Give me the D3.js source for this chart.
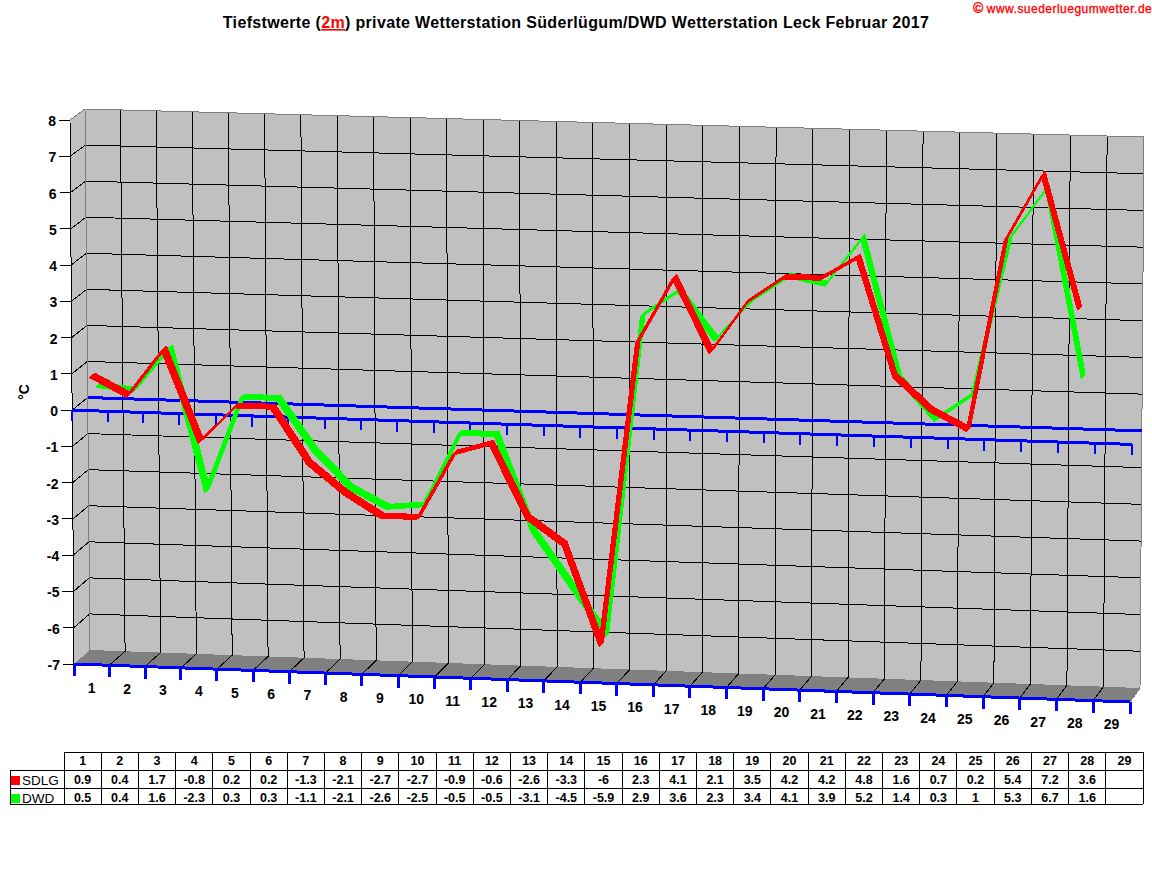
<!DOCTYPE html>
<html>
<head>
<meta charset="utf-8">
<script src="https://cdn.jsdelivr.net/npm/d3@7"></script>
<style>
	html, body { margin: 0; padding: 0; background: #fff; }
	svg { display: block; font-family: "Liberation Sans", Arial, sans-serif; }
	.lbl { font-weight: bold; font-size: 14px; fill: #000; }
	.cell { font-weight: bold; font-size: 12.5px; fill: #000; text-anchor: middle; }
</style>
</head>
<body>
<div class="chart"></div>
<script>
(function () {

	var days = d3.range(1, 30);
	var sdlg = [0.9, 0.4, 1.7, -0.8, 0.2, 0.2, -1.3, -2.1, -2.7, -2.7, -0.9, -0.6, -2.6, -3.3, -6, 2.3, 4.1, 2.1, 3.5, 4.2, 4.2, 4.8, 1.6, 0.7, 0.2, 5.4, 7.2, 3.6];
	var dwd = [0.5, 0.4, 1.6, -2.3, 0.3, 0.3, -1.1, -2.1, -2.6, -2.5, -0.5, -0.5, -3.1, -4.5, -5.9, 2.9, 3.6, 2.3, 3.4, 4.1, 3.9, 5.2, 1.4, 0.3, 1, 5.3, 6.7, 1.6];
	var yTicks = [8, 7, 6, 5, 4, 3, 2, 1, 0, -1, -2, -3, -4, -5, -6, -7];

	var svg = d3.select(".chart").append("svg")
		.attr("width", 1152)
		.attr("height", 882);

	// the plot is a tilted box, so every point goes through these scales and then the box corners
	// day spacing grows slightly to the right (36 to 36.9px), hence the pow
	var xs = d3.scalePow().exponent(1.0094).domain([0, 29]).range([0, 1]);
	var ys = d3.scaleLinear().domain([8, -7]).range([0, 1]);

	var front = { tl: [70, 120], tr: [1134, 150], bl: [74, 664], br: [1130, 702] };
	var back = { tl: [85, 109], tr: [1144, 137], bl: [90, 650], br: [1140, 688] };

	function onPlane(p, u, v) {
		var top = d3.interpolateArray(p.tl, p.tr)(u);
		var bot = d3.interpolateArray(p.bl, p.br)(u);
		return d3.interpolateArray(top, bot)(v);
	}

	// day position (0..29), value, depth (0 front .. 1 back)
	function project(day, value, depth) {
		var u = xs(day), v = ys(value);
		return d3.interpolateArray(onPlane(front, u, v), onPlane(back, u, v))(depth);
	}

	var line = d3.line();

	function path(points, color, width, fill) {
		return svg.append("path")
			.attr("d", line(points) + (fill ? "Z" : ""))
			.attr("fill", fill || "none")
			.attr("stroke", color)
			.attr("stroke-width", width)
			.attr("shape-rendering", "crispEdges");
	}

	// walls and floor
	path([project(0, 8, 0), project(0, 8, 1), project(0, -7, 1), project(0, -7, 0)], "none", 0, "#c0c0c0");
	path([project(0, 8, 1), project(29, 8, 1), project(29, -7, 1), project(0, -7, 1)], "none", 0, "#c0c0c0");
	path([project(0, -7, 0), project(0, -7, 1), project(29, -7, 1), project(29, -7, 0)], "none", 0, "#808080");

	// grid
	yTicks.slice(1, -1).forEach(function (t) {
		path([project(0, t, 0), project(0, t, 1), project(29, t, 1)], "#000", 1);
	});
	d3.range(1, 29).forEach(function (d) {
		path([project(d, -7, 0), project(d, -7, 1), project(d, 8, 1)], "#000", 1);
	});

	path([project(0, 8, 0), project(0, 8, 1), project(29, 8, 1), project(29, -7, 1), project(29, -7, 0)], "#808080", 1);
	path([project(0, 8, 1), project(0, -7, 1)], "#808080", 1);
	path([project(0, 8, 0), project(0, -7, 0)], "#000", 1);

	// zero lines and floor line with their ticks, the ribbons go over them
	path([project(0, 0, 1), project(29, 0, 1)], "#0000ff", 3);
	path([project(0, 0, 0), project(29, 0, 0)], "#0000ff", 3);
	path([project(0, -7, 0), project(29, -7, 0)], "#0000ff", 3);
	d3.range(0, 30).forEach(function (d) {
		var p0 = project(d, 0, 0), p1 = project(d, -7, 0);
		path([p0, [p0[0], p0[1] + 11]], "#0000ff", 2);
		path([p1, [p1[0], p1[1] + 12]], "#0000ff", 3);
	});

	// ribbons, one quad per day step
	function ribbon(values, color, d0, d1) {
		d3.pairs(values.map(function (v, i) { return [i + 0.5, v]; })).forEach(function (s) {
			path([
				project(s[0][0], s[0][1], d0),
				project(s[1][0], s[1][1], d0),
				project(s[1][0], s[1][1], d1),
				project(s[0][0], s[0][1], d1)
			], color, 2, color).attr("stroke-linejoin", "round");
		});
	}
	ribbon(dwd, "#00ff00", 0.45, 0.75);
	ribbon(sdlg, "#ff0000", 0.05, 0.35);

	// y axis
	yTicks.forEach(function (t) {
		var p = project(0, t, 0);
		path([[p[0] - 11, p[1]], p], "#000", 1);
		svg.append("text").attr("class", "lbl")
			.attr("x", p[0] - 14).attr("y", p[1] + 6)
			.attr("text-anchor", "end")
			.text(t);
	});
	svg.append("text").attr("class", "lbl")
		.attr("transform", "translate(29,392) rotate(-90)")
		.attr("text-anchor", "middle")
		.text("°C");

	// x labels
	days.forEach(function (d) {
		var p = project(d - 0.5, -7, 0);
		svg.append("text").attr("class", "lbl")
			.attr("x", p[0]).attr("y", p[1] + 28)
			.attr("text-anchor", "middle")
			.text(d);
	});

	// title
	var title = svg.append("text")
		.attr("x", 576).attr("y", 28)
		.attr("text-anchor", "middle")
		.attr("font-size", 16).attr("font-weight", "bold")
		.attr("letter-spacing", 0.34);
	title.append("tspan").text("Tiefstwerte (");
	title.append("tspan").attr("fill", "#ff0000").attr("text-decoration", "underline").text("2m");
	title.append("tspan").text(") private Wetterstation Süderlügum/DWD Wetterstation Leck Februar 2017");

	var mark = svg.append("text")
		.attr("x", 973).attr("y", 13)
		.attr("font-size", 12)
		.attr("fill", "#ff0000")
		.attr("stroke", "#ff0000").attr("stroke-opacity", 0.4).attr("stroke-width", 0.8)
		.attr("letter-spacing", 0.48);
	mark.append("tspan").attr("font-size", 14).attr("font-weight", "bold").text("©");
	mark.append("tspan").attr("dx", 3).text("www.suederluegumwetter.de");

	// table
	var tx = d3.scaleLinear().domain([0, 29]).range([64, 1143]);
	var rowY = [752, 770, 788, 804];
	var rows = [
		{ name: "SDLG", color: "#ff0000", values: sdlg },
		{ name: "DWD", color: "#00ff00", values: dwd }
	];

	function hline(x0, x1, y) {
		path([[x0, y], [x1, y]], "#000", 1);
	}
	function vline(x, y0, y1) {
		path([[x, y0], [x, y1]], "#000", 1);
	}

	hline(tx(0), tx(29), rowY[0]);
	hline(10, tx(29), rowY[1]);
	hline(10, tx(29), rowY[2]);
	hline(10, tx(29), rowY[3]);
	vline(10, rowY[1], rowY[3]);
	d3.range(0, 30).forEach(function (i) {
		vline(tx(i), rowY[0], rowY[3]);
	});

	days.forEach(function (d, i) {
		svg.append("text").attr("class", "cell")
			.attr("x", tx(i + 0.5)).attr("y", rowY[1] - 5)
			.text(d);
	});
	rows.forEach(function (r, k) {
		svg.append("rect")
			.attr("x", 11).attr("y", rowY[k + 1] + 6)
			.attr("width", 9).attr("height", 9)
			.attr("fill", r.color);
		svg.append("text")
			.attr("x", 22).attr("y", rowY[k + 1] + 15)
			.attr("font-size", 13.5)
			.text(r.name);
		r.values.forEach(function (v, i) {
			svg.append("text").attr("class", "cell")
				.attr("x", tx(i + 0.5)).attr("y", rowY[k + 1] + 14)
				.text(v);
		});
	});

})();
</script>
</body>
</html>
